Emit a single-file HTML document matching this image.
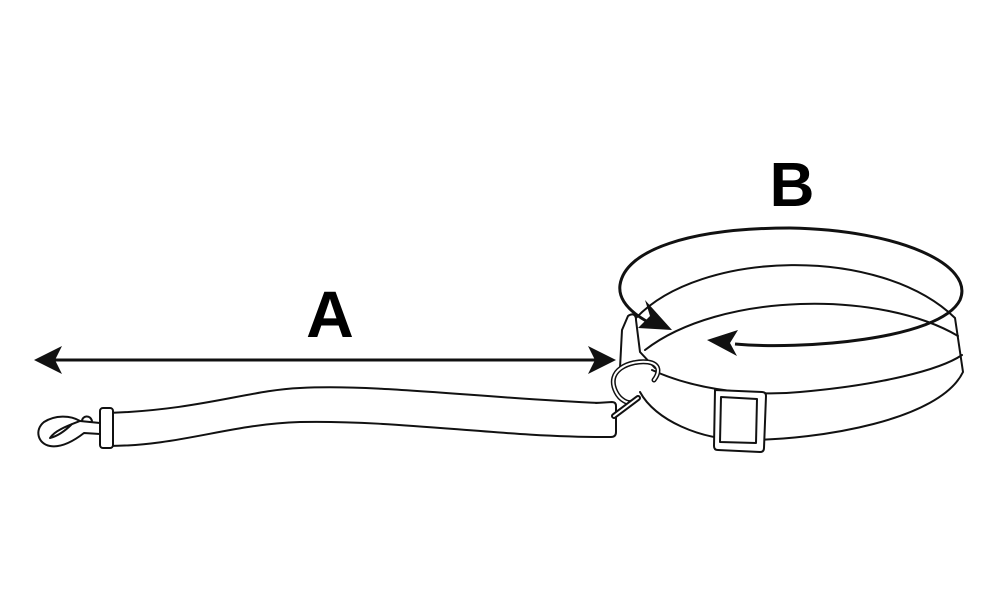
<!DOCTYPE html>
<html><head><meta charset="utf-8"><style>html,body{margin:0;padding:0;background:#fff}svg{display:block}</style></head>
<body>
<svg width="1000" height="600" viewBox="0 0 1000 600" xmlns="http://www.w3.org/2000/svg">
<rect width="1000" height="600" fill="#fff"/>
<g fill="none" stroke="#111" stroke-width="2" stroke-linejoin="round" stroke-linecap="round">
<!-- collar -->
<path d="M636 318 C700 250 880 245 955 318 L963 372 C940 420 820 440 745 440 C700 440 655 420 640 392" fill="#fff"/>
<path d="M645 350 C720 292 880 290 958 336"/>
<path d="M652 370 C700 392 760 396 800 392 C880 385 940 370 962 355"/>
<!-- tab -->
<path d="M620 368 L622 330 L628 316 C632 313 636 314 636 320 L640 352 L655 368" fill="#fff"/>
<!-- buckle -->
<path d="M715 390 L762 392 Q766 392 766 396 L764 448 Q764 452 760 452 L718 450 Q714 450 714 446 Z" fill="#fff"/>
<path d="M721 397 L757 399 L756 443 L720 442 Z"/>
<!-- D ring -->
<path d="M616 392 C605 370 630 360 648 362 C660 364 660 372 654 380 M616 392 C620 400 628 404 632 402" stroke-width="5"/>
<path d="M616 392 C605 370 630 360 648 362 C660 364 660 372 654 380 M616 392 C620 400 628 404 632 402" stroke="#fff" stroke-width="2"/>
<!-- leash -->
<path d="M108 413 C200 410 250 390 300 388 C380 384 480 398 600 403 L604 437 C500 437 400 420 300 422 C230 424 180 446 108 446 Z" fill="#fff"/>
<rect x="100" y="408" width="13" height="40" rx="3" fill="#fff"/>
<path d="M596 403 L612 402 Q616 402 616 406 L616 432 Q616 437 611 437 L602 437" fill="#fff"/>
<path d="M614 416 L638 398" stroke-width="6"/>
<path d="M614 416 L638 398" stroke="#fff" stroke-width="2"/>
<!-- snap hook -->
<path d="M100 423 L80 421 C70 415 55 415 44 422 C34 430 38 444 50 446 C62 448 75 440 84 433 L100 434"/>
<path d="M80 421 C70 425 55 430 50 438 C58 436 66 430 72 424"/>
<path d="M82 421 C82 416 90 414 92 421"/>
</g>
<!-- A arrow -->
<line x1="50" y1="360" x2="600" y2="360" stroke="#111" stroke-width="3"/>
<path d="M34 360 L62 346 L55 360 L62 374 Z" fill="#111"/>
<path d="M616 360 L588 346 L595 360 L588 374 Z" fill="#111"/>
<!-- B arrow -->
<path d="M735 344 C800 350 940 340 960 300 C975 265 900 230 790 228 C690 228 625 250 620 285 C618 300 630 312 648 322" fill="none" stroke="#111" stroke-width="3"/>
<path d="M672 330 L638 328 L650 316 L645 300 Z" fill="#111"/>
<path d="M707 340 L738 330 L730 343 L737 356 Z" fill="#111"/>
<text x="330" y="337" font-family="Liberation Sans, sans-serif" font-weight="bold" font-size="66" text-anchor="middle">A</text>
<text x="792" y="206" font-family="Liberation Sans, sans-serif" font-weight="bold" font-size="62" text-anchor="middle">B</text>
</svg>
</body></html>
